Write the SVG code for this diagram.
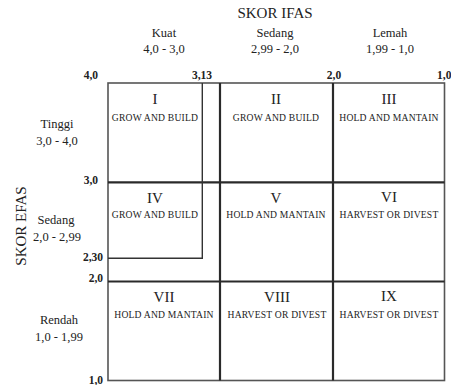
<svg xmlns="http://www.w3.org/2000/svg" width="451" height="385" viewBox="0 0 451 385">
  <style>
    text { font-family: "Liberation Serif", "DejaVu Serif", serif; fill: #222; }
    .title { font-size: 15px; text-anchor: middle; }
    .head { font-size: 12.5px; text-anchor: middle; }
    .tick { font-size: 11.5px; font-weight: bold; }
    .num { font-size: 15px; text-anchor: middle; }
    .lbl { font-size: 9.6px; text-anchor: middle; letter-spacing: 0.2px; }
    .grid { stroke: #2a2a2a; stroke-width: 2.2; fill: none; }
    .border { stroke: #555; stroke-width: 1.6; fill: none; }
    .cut { stroke: #333; stroke-width: 1.4; fill: none; }
  </style>

  <!-- axis titles and ranges -->
  <g id="ifas-axis">
    <text class="title" x="275" y="18">SKOR IFAS</text>
    <text class="head" x="164" y="37">Kuat</text>
    <text class="head" x="164" y="53">4,0 - 3,0</text>
    <text class="head" x="275" y="37">Sedang</text>
    <text class="head" x="275" y="53">2,99 - 2,0</text>
    <text class="head" x="390" y="37">Lemah</text>
    <text class="head" x="390" y="53">1,99 - 1,0</text>
    <text class="tick" x="98" y="79" text-anchor="end">4,0</text>
    <text class="tick" x="212" y="79" text-anchor="end">3,13</text>
    <text class="tick" x="334" y="79" text-anchor="middle">2,0</text>
    <text class="tick" x="437" y="79">1,0</text>
  </g>

  <g id="efas-axis">
    <text class="title" transform="translate(26,226) rotate(-90)">SKOR EFAS</text>
    <text class="head" x="57" y="128">Tinggi</text>
    <text class="head" x="57" y="145">3,0 - 4,0</text>
    <text class="head" x="56" y="224">Sedang</text>
    <text class="head" x="57" y="241">2,0 - 2,99</text>
    <text class="head" x="59" y="324">Rendah</text>
    <text class="head" x="59" y="341">1,0 - 1,99</text>
    <text class="tick" x="98" y="184" text-anchor="end">3,0</text>
    <text class="tick" x="103" y="261" text-anchor="end">2,30</text>
    <text class="tick" x="103" y="282" text-anchor="end">2,0</text>
    <text class="tick" x="103" y="384" text-anchor="end">1,0</text>
  </g>

  <!-- matrix lines -->
  <g id="connectors">
    <rect class="border" x="108" y="83" width="336.5" height="297.5"/>
    <line class="grid" x1="220" y1="83" x2="220" y2="380.5"/>
    <line class="grid" x1="333" y1="83" x2="333" y2="380.5"/>
    <line class="grid" x1="108" y1="182.3" x2="444.5" y2="182.3"/>
    <line class="grid" x1="108" y1="281.5" x2="444.5" y2="281.5"/>
    <polyline class="cut" points="202.3,83 202.3,258.3 108,258.3"/>
  </g>

  <!-- cells -->
  <g id="cell-1"><text class="num" x="155" y="104">I</text><text class="lbl" x="155" y="121">GROW AND BUILD</text></g>
  <g id="cell-2"><text class="num" x="276" y="104">II</text><text class="lbl" x="276" y="121">GROW AND BUILD</text></g>
  <g id="cell-3"><text class="num" x="389" y="104">III</text><text class="lbl" x="389" y="121">HOLD AND MANTAIN</text></g>
  <g id="cell-4"><text class="num" x="155" y="203">IV</text><text class="lbl" x="155" y="218">GROW AND BUILD</text></g>
  <g id="cell-5"><text class="num" x="276" y="203">V</text><text class="lbl" x="276" y="218">HOLD AND MANTAIN</text></g>
  <g id="cell-6"><text class="num" x="389" y="202">VI</text><text class="lbl" x="389" y="218">HARVEST OR DIVEST</text></g>
  <g id="cell-7"><text class="num" x="164" y="302">VII</text><text class="lbl" x="164" y="318">HOLD AND MANTAIN</text></g>
  <g id="cell-8"><text class="num" x="277" y="302">VIII</text><text class="lbl" x="277" y="318">HARVEST OR DIVEST</text></g>
  <g id="cell-9"><text class="num" x="389" y="301">IX</text><text class="lbl" x="389" y="318">HARVEST OR DIVEST</text></g>
</svg>
